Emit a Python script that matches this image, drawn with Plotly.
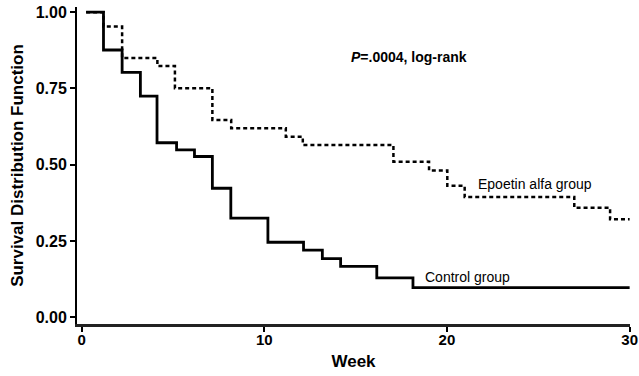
import plotly.graph_objects as go

# Control group (solid) step curve: step times (weeks) and survival
control_weeks = [0.25, 1.2, 2.22, 3.22, 4.13, 5.2, 6.18, 7.16, 8.17, 10.2, 12.15, 13.18, 14.18, 16.16, 18.14, 30.0]
control_surv = [1.0, 0.876, 0.803, 0.725, 0.572, 0.549, 0.527, 0.423, 0.325, 0.246, 0.220, 0.192, 0.167, 0.129, 0.097, 0.097]

# Epoetin alfa group (dashed) step curve
epo_weeks = [0.25, 1.2, 2.22, 4.15, 5.11, 7.16, 8.19, 11.18, 12.11, 17.07, 19.02, 20.02, 20.97, 26.97, 28.93, 30.0]
epo_surv = [1.0, 0.953, 0.850, 0.824, 0.751, 0.647, 0.620, 0.592, 0.565, 0.510, 0.481, 0.431, 0.394, 0.359, 0.321, 0.321]

x_ticks = [0, 10, 20, 30]
y_ticks = [0.0, 0.25, 0.5, 0.75, 1.0]
y_ticklabels = ["0.00", "0.25", "0.50", "0.75", "1.00"]

FONT = "Liberation Sans, Arial, Helvetica, sans-serif"

fig = go.Figure()
fig.add_trace(go.Scatter(
    x=epo_weeks, y=epo_surv, mode="lines", line_shape="hv",
    line=dict(color="black", width=2.5, dash="4px,3px"), showlegend=False))
fig.add_trace(go.Scatter(
    x=control_weeks, y=control_surv, mode="lines", line_shape="hv",
    line=dict(color="black", width=2.8), showlegend=False))

fig.add_annotation(x=14.65, y=0.853, xref="x", yref="y", xanchor="left", yanchor="middle",
                   text="<b><i>P</i>=.0004, log-rank</b>", showarrow=False,
                   font=dict(family=FONT, size=14, color="black"))
fig.add_annotation(x=21.58, y=0.437, xref="x", yref="y", xanchor="left", yanchor="middle",
                   text="Epoetin alfa group", showarrow=False,
                   font=dict(family=FONT, size=14, color="black"))
fig.add_annotation(x=18.68, y=0.133, xref="x", yref="y", xanchor="left", yanchor="middle",
                   text="Control group", showarrow=False,
                   font=dict(family=FONT, size=14, color="black"))

fig.update_layout(
    width=639, height=376,
    margin=dict(l=77, r=9, t=7, b=52, autoexpand=False),
    paper_bgcolor="white", plot_bgcolor="white",
    font=dict(family=FONT, color="black"),
    xaxis=dict(
        range=[-0.25, 30.02], tickvals=x_ticks, ticks="outside", ticklen=5, tickwidth=2,
        tickcolor="black", showline=True, linecolor="#222", linewidth=2.5,
        showgrid=False, zeroline=False, ticklabeloverflow="allow", ticklabelstandoff=-5,
        tickfont=dict(family=FONT, size=15, color="black", weight="bold"),
        title=dict(text="<b>Week</b>", font=dict(family=FONT, size=17, color="black"), standoff=9),
    ),
    yaxis=dict(
        range=[-0.022, 1.017], tickvals=y_ticks, ticktext=[f"<b>{t}</b>" for t in y_ticklabels],
        ticks="outside", ticklen=5, tickwidth=2, tickcolor="black",
        showline=True, linecolor="black", linewidth=2,
        showgrid=False, zeroline=False,
        tickfont=dict(family=FONT, size=16, color="black"),
        title=dict(text="<b>Survival Distribution Function</b>",
                   font=dict(family=FONT, size=17, color="black"), standoff=8),
    ),
)

fig.write_html("out.html", config={"displayModeBar": False},
               post_script="document.body.style.margin='0';document.body.style.overflow='hidden';")
